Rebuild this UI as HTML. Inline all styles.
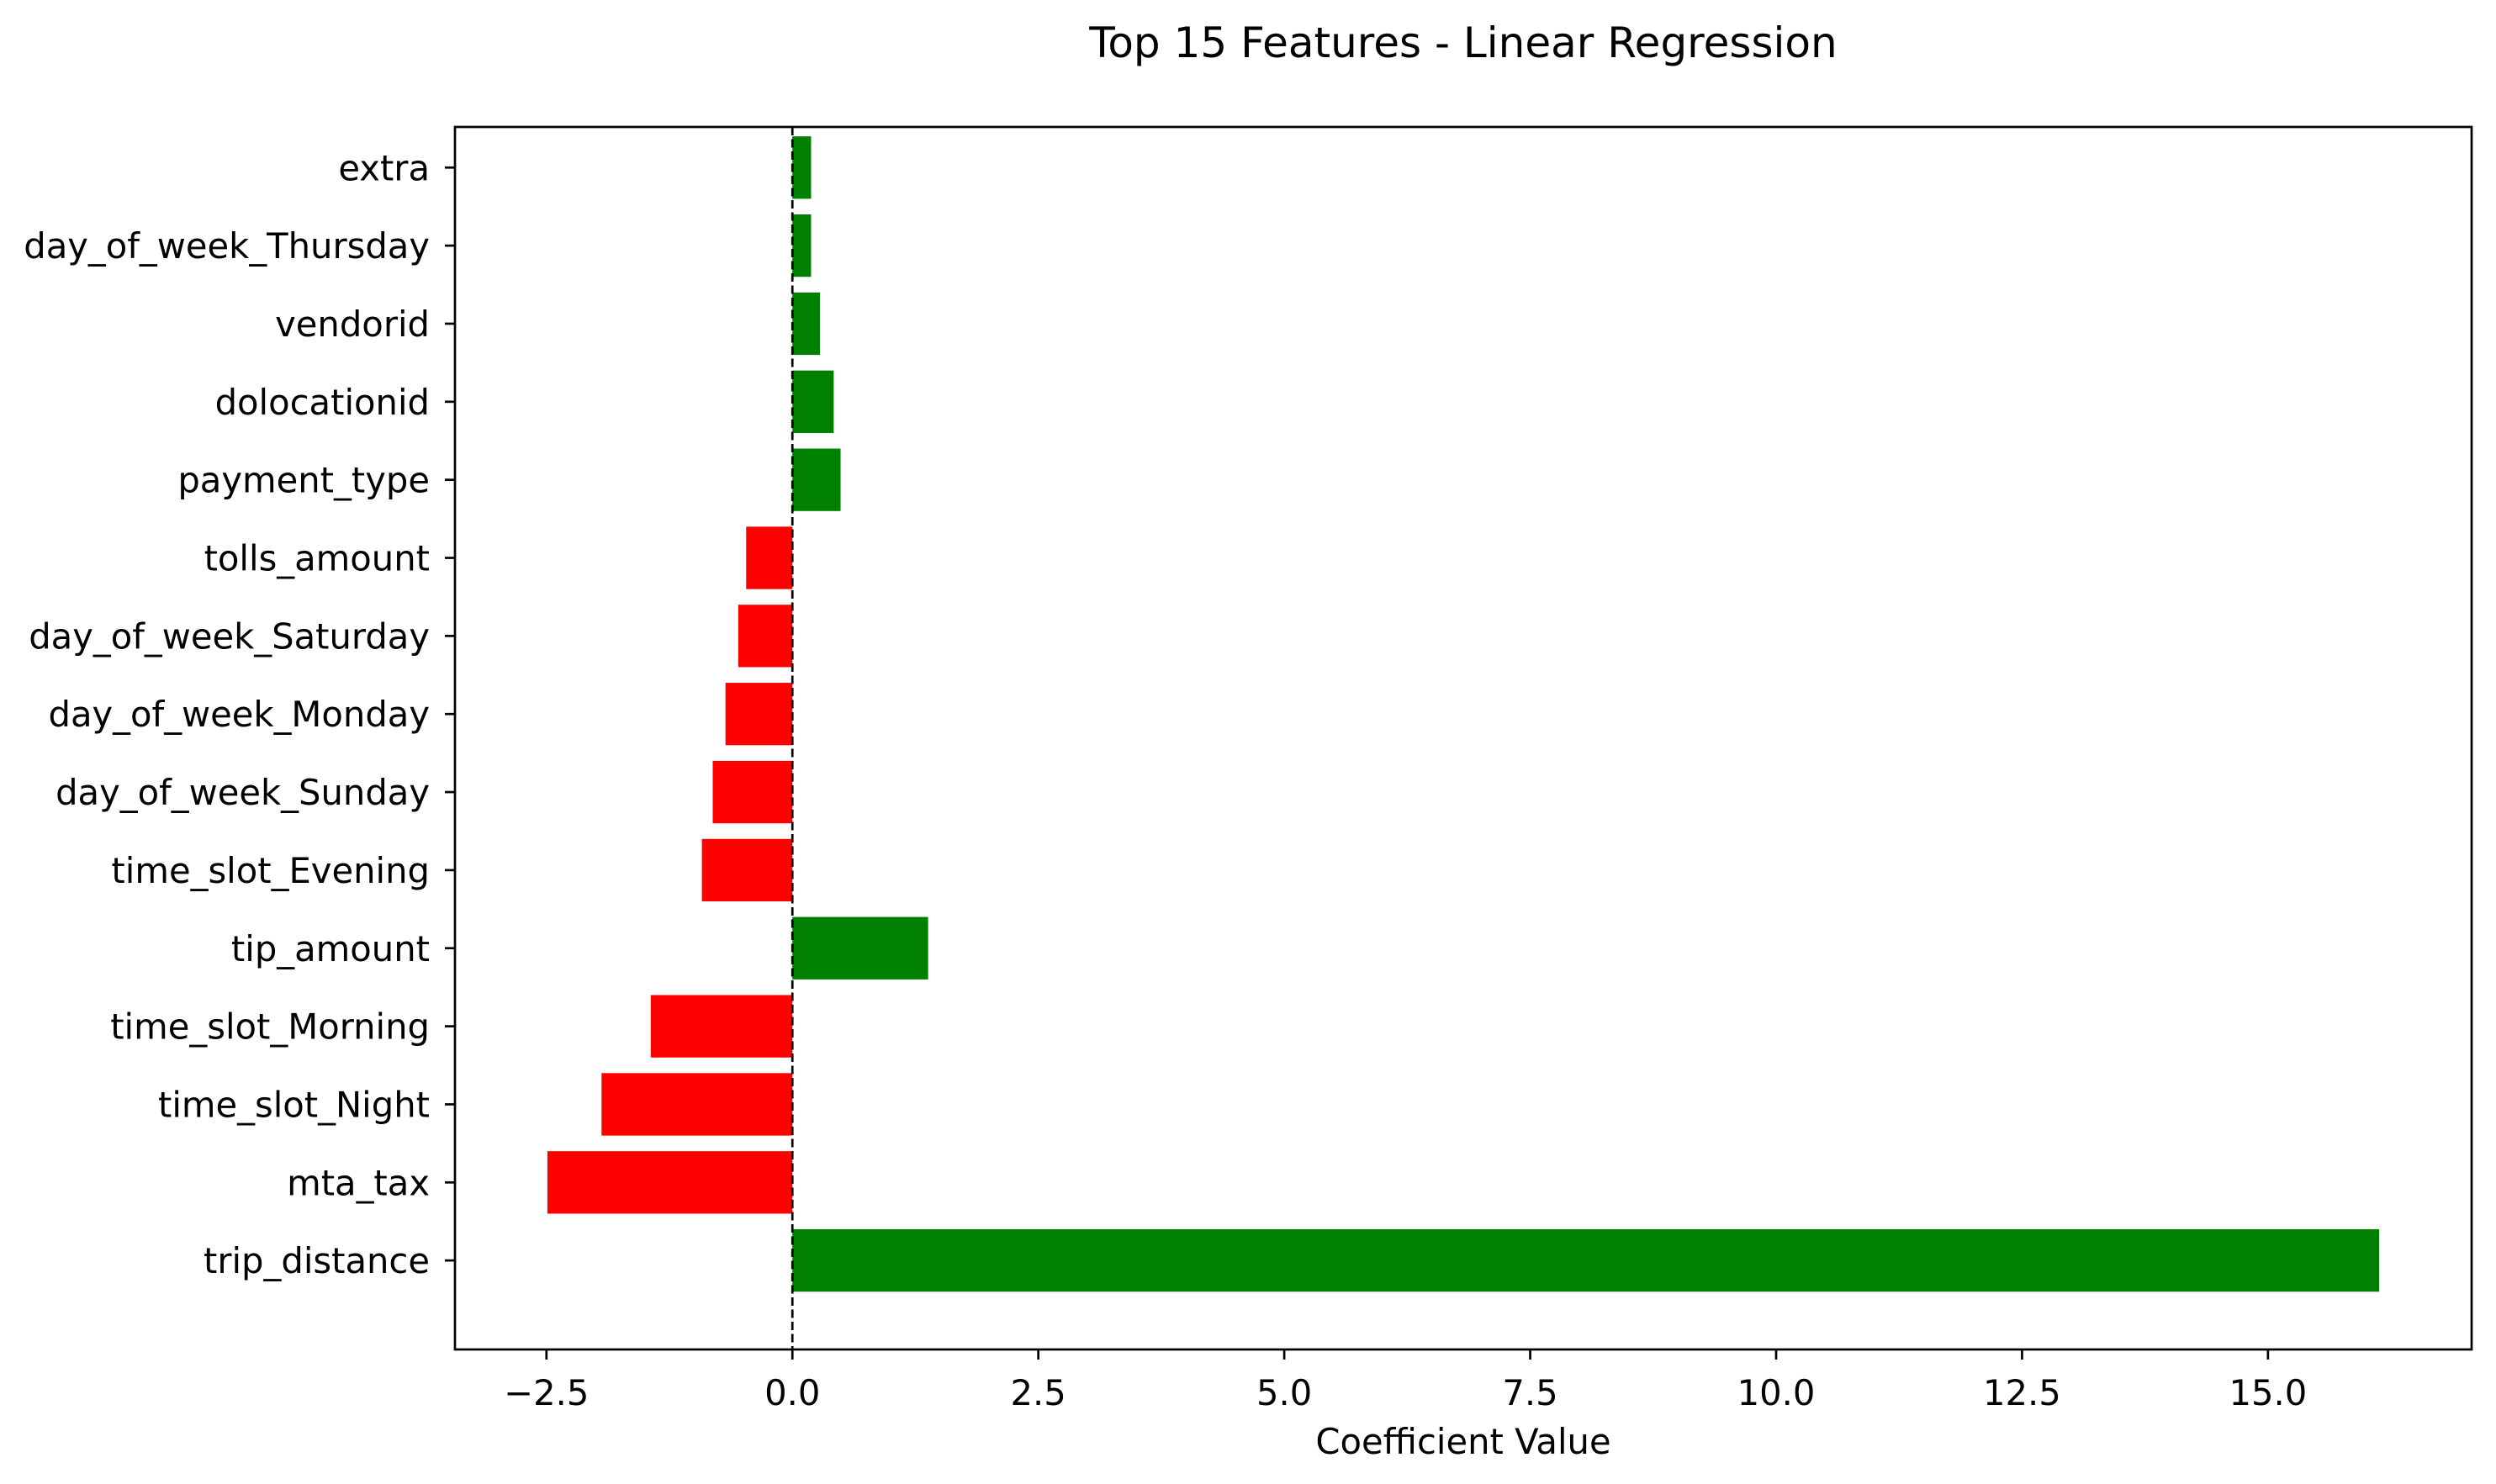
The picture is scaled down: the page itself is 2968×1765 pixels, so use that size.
<!DOCTYPE html>
<html><head><meta charset="utf-8">
<style>
html,body{margin:0;padding:0;background:#fff}
svg{display:block}
text{font-family:"DejaVu Sans","Liberation Sans",sans-serif;fill:#000}
</style></head>
<body>
<svg id="chart" width="2968" height="1765" viewBox="0 0 2968 1765" xmlns="http://www.w3.org/2000/svg">
<rect width="2968" height="1765" fill="#fff"/>
<text x="1740" y="68" font-size="50" text-anchor="middle">Top 15 Features - Linear Regression</text>
<text x="1740" y="1729" font-size="41.7" text-anchor="middle">Coefficient Value</text>
<g id="bars"></g>
<g id="axes"></g>
</svg>
<script>
const categories = ["trip_distance","mta_tax","time_slot_Night","time_slot_Morning","tip_amount","time_slot_Evening","day_of_week_Sunday","day_of_week_Monday","day_of_week_Saturday","tolls_amount","payment_type","dolocationid","vendorid","day_of_week_Thursday","extra"];
const values = [16.13,-2.49,-1.94,-1.44,1.38,-0.92,-0.81,-0.68,-0.55,-0.47,0.49,0.42,0.28,0.19,0.19];
const xTicks = [-2.5,0,2.5,5,7.5,10,12.5,15];
const xTickLabels = ["\u22122.5","0.0","2.5","5.0","7.5","10.0","12.5","15.0"];

const L=541,R=2939,T=151,B=1605;
const xMin=-3.43,xMax=17.07;
const yMin=-1.14,yMax=14.52;
const xs=v=>L+(v-xMin)/(xMax-xMin)*(R-L);
const ys=i=>B-(i-yMin)/(yMax-yMin)*(B-T);
const NS="http://www.w3.org/2000/svg";
const bars=document.getElementById('bars');
const axes=document.getElementById('axes');
const bh=0.8*(B-T)/(yMax-yMin);

values.forEach((v,i)=>{
  const r=document.createElementNS(NS,'rect');
  const x0=xs(Math.min(0,v)),x1=xs(Math.max(0,v));
  r.setAttribute('x',x0);r.setAttribute('y',ys(i)-bh/2);
  r.setAttribute('width',x1-x0);r.setAttribute('height',bh);
  r.setAttribute('fill',v>=0?'#008000':'#ff0000');
  
  
  bars.appendChild(r);
  const t=document.createElementNS(NS,'line');
  t.setAttribute('x1',L-12);t.setAttribute('x2',L);
  t.setAttribute('y1',ys(i));t.setAttribute('y2',ys(i));
  t.setAttribute('stroke','#000');t.setAttribute('stroke-width','2.7');
  
  
  axes.appendChild(t);
  const lb=document.createElementNS(NS,'text');
  lb.setAttribute('x',L-30);lb.setAttribute('y',ys(i)+15);
  lb.setAttribute('font-size','41.7');lb.setAttribute('text-anchor','end');
  lb.textContent=categories[i];
  
  
  axes.appendChild(lb);
});

const zl=document.createElementNS(NS,'line');
zl.setAttribute('x1',xs(0));zl.setAttribute('x2',xs(0));
zl.setAttribute('y1',T);zl.setAttribute('y2',B);
zl.setAttribute('stroke','#000');zl.setAttribute('stroke-width','2.7');
zl.setAttribute('stroke-dasharray','10,4.5');


axes.appendChild(zl);

xTicks.forEach((v,k)=>{
  const t=document.createElementNS(NS,'line');
  t.setAttribute('x1',xs(v));t.setAttribute('x2',xs(v));
  t.setAttribute('y1',B);t.setAttribute('y2',B+12);
  t.setAttribute('stroke','#000');t.setAttribute('stroke-width','2.7');
  
  
  axes.appendChild(t);
  const lb=document.createElementNS(NS,'text');
  lb.setAttribute('x',xs(v));lb.setAttribute('y',B+66);
  lb.setAttribute('font-size','41.7');lb.setAttribute('text-anchor','middle');
  lb.textContent=xTickLabels[k];
  
  
  axes.appendChild(lb);
});

const frame=document.createElementNS(NS,'rect');
frame.setAttribute('x',L);frame.setAttribute('y',T);
frame.setAttribute('width',R-L);frame.setAttribute('height',B-T);
frame.setAttribute('fill','none');frame.setAttribute('stroke','#000');frame.setAttribute('stroke-width','2.7');


axes.appendChild(frame);
</script>
</body></html>
